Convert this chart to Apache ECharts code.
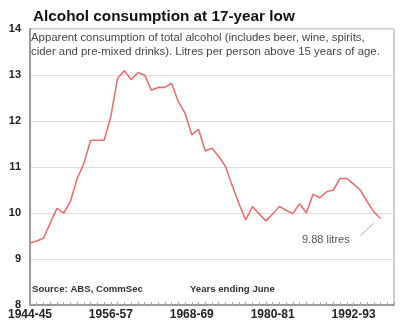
<!DOCTYPE html>
<html><head><meta charset="utf-8">
<script src="https://cdn.jsdelivr.net/npm/echarts@6/dist/echarts.min.js"></script>
<style>html,body{margin:0;padding:0;background:#fff}#c{width:403px;height:328px}</style>
</head><body><div id="c"></div>
<script>
var categories = ['1944-45','1945-46','1946-47','1947-48','1948-49','1949-50','1950-51','1951-52','1952-53','1953-54',
'1954-55','1955-56','1956-57','1957-58','1958-59','1959-60','1960-61','1961-62','1962-63','1963-64',
'1964-65','1965-66','1966-67','1967-68','1968-69','1969-70','1970-71','1971-72','1972-73','1973-74',
'1974-75','1975-76','1976-77','1977-78','1978-79','1979-80','1980-81','1981-82','1982-83','1983-84',
'1984-85','1985-86','1986-87','1987-88','1988-89','1989-90','1990-91','1991-92','1992-93','1993-94',
'1994-95','1995-96','1996-97','1997-98','1998-99'];
var litres = [9.35,9.39,9.45,9.78,10.1,10.0,10.25,10.75,11.08,11.58,
11.58,11.58,12.1,12.93,13.09,12.9,13.05,13.0,12.67,12.73,
12.73,12.82,12.42,12.17,11.7,11.82,11.35,11.41,11.23,11.01,
10.6,10.2,9.85,10.14,9.98,9.83,9.98,10.14,10.06,9.99,
10.2,10.0,10.41,10.33,10.46,10.5,10.75,10.75,10.63,10.5,
10.25,10.03,9.88];
var yTicks = [8,9,10,11,12,13,14];
var font = 'Liberation Sans, Arial, sans-serif';
var chart = echarts.init(document.getElementById('c'));
chart.setOption({
  animation:false,
  textStyle:{fontFamily:font},
  title:{text:'Alcohol consumption at 17-year low',left:28,top:4,
    textStyle:{fontSize:15.3,fontWeight:'bold',color:'#111',fontFamily:font}},
  grid:{left:30,right:9,top:29,bottom:23,show:true,borderColor:'#999',borderWidth:1},
  xAxis:{type:'category',data:categories,boundaryGap:false,
    axisLine:{lineStyle:{color:'#999',width:2}},
    axisTick:{show:true,inside:true,interval:0,length:3,lineStyle:{color:'#aaa'}},
    axisLabel:{interval:11,color:'#222',fontWeight:'bold',fontSize:12,margin:4,fontFamily:font},
    splitLine:{show:false}},
  yAxis:{type:'value',min:yTicks[0],max:yTicks[yTicks.length-1],interval:1,
    axisLine:{show:true,lineStyle:{color:'#999',width:2}},
    axisTick:{show:false},
    axisLabel:{color:'#222',fontWeight:'bold',fontSize:11,margin:9,fontFamily:font},
    splitLine:{lineStyle:{color:'#ddd',width:1}}},
  series:[{type:'line',data:litres,symbol:'none',
    lineStyle:{color:'#e07276',width:1.6},
    markLine:{silent:true,symbol:'none',label:{show:false},
      lineStyle:{color:'#aaa',width:1,type:'solid'},
      data:[[{coord:['1993-94',9.5]},{coord:['1995-96',9.78]}]]}}],
  graphic:[
    {type:'text',left:31,top:31,style:{text:'Apparent consumption of total alcohol (includes beer, wine, spirits,\ncider and pre-mixed drinks). Litres per person above 15 years of age.',
      fill:'#444',font:'11.4px '+font,lineHeight:14}},
    {type:'text',left:32,top:284,style:{text:'Source: ABS, CommSec',fill:'#333',font:'bold 9.6px '+font}},
    {type:'text',left:190,top:284,style:{text:'Years ending June',fill:'#333',font:'bold 9.6px '+font}},
    {type:'text',left:302,top:234,style:{text:'9.88 litres',fill:'#555',font:'11px '+font}}
  ]
});
</script></body></html>
